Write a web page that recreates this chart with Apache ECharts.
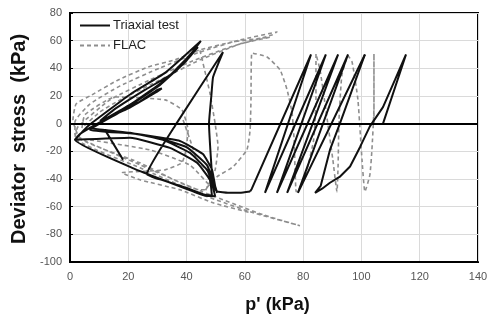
<!DOCTYPE html>
<html>
<head>
<meta charset="utf-8">
<script src="https://cdn.jsdelivr.net/npm/echarts@6/dist/echarts.min.js"></script>
<style>
  html, body { margin: 0; padding: 0; background: #fff; }
  #chart { width: 491px; height: 326px; }
</style>
</head>
<body>
<div id="chart"></div>
<script>
// p' (kPa) vs deviator stress q (kPa)
const xTicks = [0, 20, 40, 60, 80, 100, 120, 140];
const yTicks = [-100, -80, -60, -40, -20, 0, 20, 40, 60, 80];

// triaxial test - first, large cycle (rounded)
const testFirst = [
  [107.4, 0], [115.3, 50],
  [111.5, 31.6], [107.4, 12], [102.9, -2], [99.5, -17], [96.1, -31], [92.5, -38.5], [89.2, -42.7], [86.5, -47], [84.1, -50],
  [86, -45], [89.2, -19], [92.6, 0], [101.2, 50]
];

// triaxial test - following cycles (peaks at q=50, troughs at q=-50)
const testRight = [
  [101.2, 50],
  [78.2, -50],
  [95.4, 50],
  [74.5, -50],
  [92.0, 50],
  [71.0, -50],
  [87.8, 50],
  [66.9, -50],
  [82.7, 50],
  [62.4, -47], [61.8, -49]
];

// triaxial test - butterfly part on the left
const testLeft = [
  [61.8, -49], [58.3, -50], [54.2, -50], [50.5, -49], [49.1, -45], [48.5, -30], [47.7, 0], [48.5, 20], [49.1, 33.8], [52.5, 51.8],
  [36.5, 0], [26.4, -36.5],
  [32, -41], [40, -46.5], [46.3, -51.4], [48.7, -52],
  [48, -40.6], [43.6, -28.3], [34.3, -17.5], [20.6, -10.2], [1.7, -11.7],
  [6, -2], [21.3, 22.2], [32.6, 36.7], [44.9, 59.8],
  [41.2, 49.7], [32.6, 31.6], [20.6, 13.7], [8.6, -0.9], [3.4, -7.5],
  [1.7, -11.7], [21.3, -31.9], [46.3, -52], [49.8, -52.5],
  [48.7, -42.7], [47, -33.4], [41.2, -21.1], [31.9, -11.7], [20.6, -6.6], [6.9, -3],
  [14, 5], [24, 16], [30, 24.5], [31.5, 25.5], [29, 22], [20, 11], [10.3, 2],
  [15, 10], [25.7, 24.4], [36, 37.4], [43.9, 55.4],
  [39.5, 44.6], [30.9, 28], [17.2, 8.5], [6.9, -4.5],
  [20.6, -7], [37.7, -12.5], [45.6, -22], [48.7, -33], [49.8, -45], [50.5, -50],
  [47, -30], [40, -17], [28, -9], [12, -4.5], [18.2, -26.1]
];

// FLAC
const flacRight = [
  [104.3, 0], [104.3, 25], [104.3, 50.4], [104.3, 12], [103.6, -18.9], [102.9, -37], [101.2, -49.2],
  [100.2, -26.1], [98.8, 17.2], [96.8, 44.6], [95.4, 49], [93.3, 35.2], [92.3, 2.7], [92, -29.7], [91.6, -49.2],
  [90.2, -26.1], [87.8, 10], [85.8, 38.8], [84.4, 50.4], [84.4, 17.2], [83.6, -11.7], [81.3, -33.4], [78.5, -48], [77.6, -49.2],
  [76.9, -11.7], [76.2, 7.8], [74.5, 24.4], [72.1, 38.8], [67.6, 48.2], [62.4, 51.1],
  [62.1, 17.2], [61.8, -4.5], [60.7, -18.9], [55.9, -31.2], [50.4, -38.4], [46.3, -47.8]
];
const flacLeft = [
  [46.3, -47.8], [44.6, -47.8], [24, -28.3], [1.7, -8.1],
  [1.7, 1.3], [6.9, 14.3], [17.2, 27.3], [30.9, 40.3], [44.6, 51.8], [58.3, 60.5], [71, 66.3],
  [69.3, 64.1], [54.9, 55.4], [41.2, 44.6], [27.4, 31.6], [13.7, 17.2], [2.7, -2.3],
  [1.7, -10.2], [24, -31.9], [46.3, -52.1], [61.8, -63.7], [78.9, -73.8],
  [66.2, -65.8], [44.6, -48.5], [24, -29.7], [3.4, -10.2],
  [1, 2.7], [2.1, 14.3], [7.5, 20.8], [16.5, 31.6], [26.8, 41], [36, 46.1], [44.6, 53.3], [55.6, 59], [68.6, 62.5],
  [58.3, 57.6], [44.6, 46.1], [30.9, 31.6], [17.2, 17.2], [10.3, 8.5], [4.1, -3],
  [5.1, 6.4], [15.4, 19.3], [32.6, 17.2], [38.4, 10], [40.5, -4.5], [39.8, -18.9], [38.4, -28.3], [32.6, -33.4], [17.8, -35.5],
  [24, -40.6], [37.7, -47.8], [49.1, -57.2], [61.8, -64.4]
];
const flacMid = [[44.6, 53], [48, 22.2], [49.8, 0], [50.8, -16.5], [49.8, -33.4], [47.3, -45], [46, -50]];
const flacLow = [[6.9, -11.7], [27.4, -19], [41.2, -30], [48, -45]];
const flacArc = [[38.8, 2.7], [41.2, -11.7], [43.6, -26.1], [48, -35.5]];

const chart = echarts.init(document.getElementById('chart'));

const testColor = '#111';
const flacColor = '#8e8e8e';
const testStyle = { color: testColor, width: 2 };
const flacStyle = { color: flacColor, width: 1.6, type: [4, 3] };

function testSeries(data, smooth, extra) {
  return Object.assign({
    name: 'Triaxial test', type: 'line', data: data, symbol: 'none', smooth: smooth,
    lineStyle: testStyle, itemStyle: { color: testColor }, z: 3
  }, extra || {});
}
function flacSeries(data) {
  return {
    name: 'FLAC', type: 'line', data: data, symbol: 'none', smooth: 0.15,
    lineStyle: flacStyle, itemStyle: { color: flacColor }, z: 2
  };
}

chart.setOption({
  animation: false,
  backgroundColor: '#fff',
  grid: { left: 70, right: 13, top: 13, bottom: 64, show: true, borderColor: '#000', borderWidth: 2 },
  legend: {
    orient: 'vertical', left: 75, top: 14, itemWidth: 30, itemHeight: 10, itemGap: 7,
    data: [
      { name: 'Triaxial test', icon: 'path://M0,0 L30,0 L30,2 L0,2 Z' },
      { name: 'FLAC', icon: 'path://M0,0 h4 v2 h-4 Z M7,0 h4 v2 h-4 Z M14,0 h4 v2 h-4 Z M21,0 h4 v2 h-4 Z M28,0 h2 v2 h-2 Z' }
    ],
    textStyle: { fontFamily: 'Liberation Sans', fontSize: 13, color: '#222', padding: [0, 0, 0, -2] }
  },
  xAxis: {
    type: 'value', min: xTicks[0], max: xTicks[xTicks.length - 1], interval: 20,
    axisLine: { onZero: false, lineStyle: { color: '#000', width: 2 } },
    axisTick: { show: false },
    splitLine: { lineStyle: { color: '#dadada', width: 1 } },
    axisLabel: { color: '#555', fontSize: 11, margin: 9, fontFamily: 'Liberation Sans' },
    name: "p' (kPa)", nameLocation: 'middle', nameGap: 34,
    nameTextStyle: { fontFamily: 'Liberation Sans', fontWeight: 'bold', fontSize: 18, color: '#111', padding: [0, 0, 0, 7] }
  },
  yAxis: {
    type: 'value', min: yTicks[0], max: yTicks[yTicks.length - 1], interval: 20,
    axisLine: { lineStyle: { color: '#000', width: 2 } },
    axisTick: { show: true, inside: true, length: 3, lineStyle: { color: '#000' } },
    splitLine: { lineStyle: { color: '#dadada', width: 1 } },
    axisLabel: { color: '#555', fontSize: 11, margin: 8, fontFamily: 'Liberation Sans' }
  },
  graphic: [{
    type: 'text', x: 19, y: 139, rotation: Math.PI / 2,
    style: {
      text: 'Deviator  stress  (kPa)', font: 'bold 20px "Liberation Sans"',
      align: 'center', verticalAlign: 'middle', fill: '#111'
    }
  }],
  series: [
    testSeries(testFirst, false, {
      markLine: {
        silent: true, symbol: ['none', 'none'], label: { show: false },
        lineStyle: { color: '#000', width: 2, type: 'solid' },
        data: [{ yAxis: 0 }]
      }
    }),
    testSeries(testRight, false),
    testSeries(testLeft, 0.12),
    flacSeries(flacRight),
    flacSeries(flacLeft),
    flacSeries(flacMid),
    flacSeries(flacLow),
    flacSeries(flacArc)
  ]
});
</script>
</body>
</html>
